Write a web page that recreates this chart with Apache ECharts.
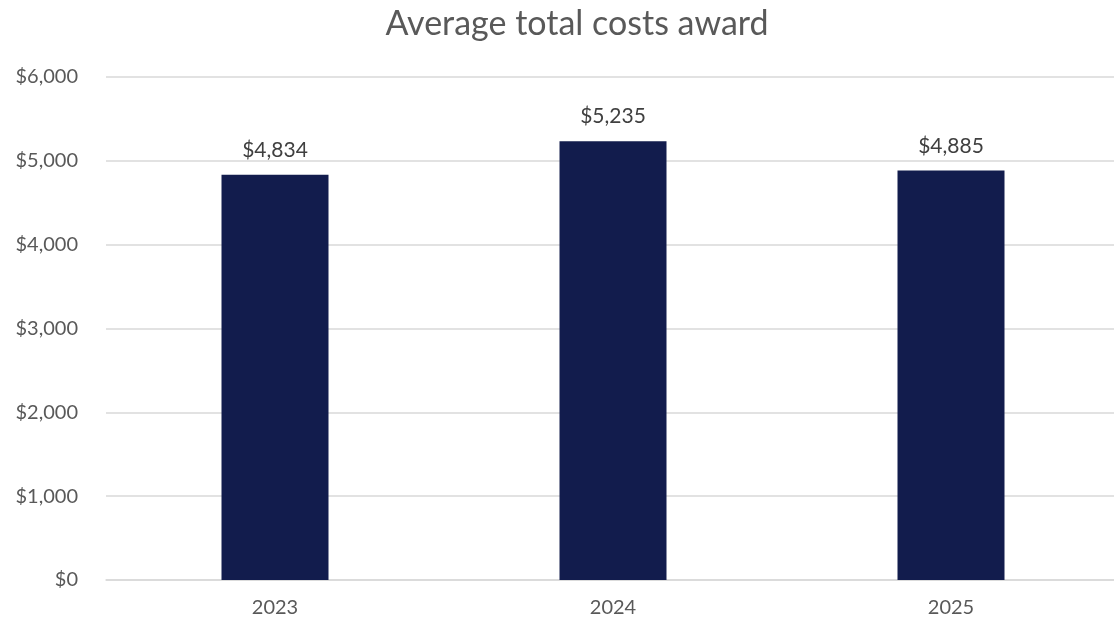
<!DOCTYPE html>
<html><head><meta charset="utf-8">
<script src="https://cdn.jsdelivr.net/npm/echarts@6/dist/echarts.min.js"></script>
<style>html,body{margin:0;padding:0;background:#fff;overflow:hidden}#c{width:1120px;height:625px}</style>
</head><body><div id="c"></div>
<script>
const categories = ['2023', '2024', '2025'];
const values = [4834, 5235, 4885];
const title = 'Average total costs award';
const fmt = v => '$' + v.toLocaleString('en-US');
const chart = echarts.init(document.getElementById('c'), null, {renderer: 'canvas'});
chart.setOption({
  animation: false,
  backgroundColor: '#fff',
  title: {text: title, left: 572, textAlign: 'center', top: 2, textStyle: {fontFamily: 'Lato', fontSize: 34, fontWeight: 'normal', color: '#595959'}},
  grid: {left: 106, right: 0, top: 77, bottom: 45, containLabel: false},
  xAxis: {type: 'category', data: categories,
    axisLine: {lineStyle: {color: '#d9d9d9', width: 1.5}}, axisTick: {show: false},
    axisLabel: {fontFamily: 'Lato', fontSize: 20, color: '#595959', margin: 18}},
  yAxis: {type: 'value', min: 0, max: 6000, interval: 1000,
    axisLine: {show: false}, axisTick: {show: false},
    splitLine: {lineStyle: {color: '#d9d9d9', width: 1.5}},
    axisLabel: {fontFamily: 'Lato', fontSize: 20, color: '#595959', margin: 28, formatter: fmt}},
  series: [{type: 'bar', data: values, barWidth: 107,
    itemStyle: {color: '#121C4D'},
    label: {show: true, position: 'top', distance: 14, formatter: p => fmt(p.value), fontFamily: 'Lato', fontSize: 21, color: '#404040'}}]
});
</script></body></html>
